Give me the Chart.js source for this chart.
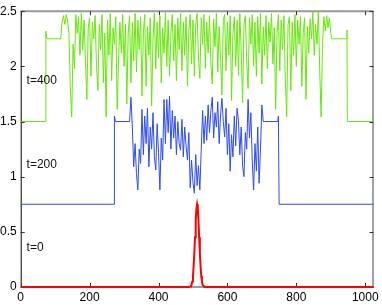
<!DOCTYPE html>
<html>
<head>
<meta charset="utf-8">
<script src="https://cdn.jsdelivr.net/npm/chart.js@4.4.1/dist/chart.umd.min.js"></script>
<style>
  html, body { margin: 0; padding: 0; background: #fff; }
  #grafico { display: block; }
</style>
</head>
<body>
<canvas id="grafico" width="382" height="305"></canvas>
<script>
// axis ticks
const xTicks = [0, 200, 400, 600, 800, 1000]
const yTicks = [0, 0.5, 1, 1.5, 2, 2.5]

// curve labels, placed in data units
const curveLabels = ['t=0', 't=200', 't=400']
const curveLabelY = [0.36, 1.11, 1.87]
const curveLabelX = 17

// t=0: red bump
const redX = [0, 488, 492, 494, 496, 498, 500, 502, 504, 506, 508, 510, 512, 514, 516, 518, 520, 522, 524, 526, 528, 530, 534, 1024]
const redY = [0, 0, 0.005, 0.01, 0.02, 0.05, 0.10, 0.19, 0.31, 0.45, 0.60, 0.71, 0.75, 0.71, 0.60, 0.45, 0.31, 0.19, 0.10, 0.05, 0.02, 0.01, 0, 0]

// t=200: blue, flat parts + noisy middle (sampled every 4 from 320)
const blueHeadX = [0, 271, 272, 275, 316]
const blueHeadY = [0.75, 0.75, 1.55, 1.5, 1.5]
const blueTailX = [707, 746, 748, 750, 1024]
const blueTailY = [1.5, 1.5, 1.55, 0.75, 0.75]
const blueNoiseStart = 320
const blueNoise = [
  1.72, 1.45, 1.09, 1.30, 1.03, 0.88, 1.25, 1.12, 1.61, 1.20,
  1.55, 1.30, 1.62, 1.09, 1.45, 1.25, 1.58, 1.18, 1.06, 1.48,
  1.22, 0.88, 1.35, 1.15, 1.70, 1.30, 1.70, 1.40, 1.73, 1.25,
  1.60, 1.35, 1.55, 1.20, 1.50, 1.30, 1.24, 1.52, 1.18, 1.45,
  1.28, 1.15, 1.40, 0.90, 1.15, 0.95, 0.85, 1.20, 0.92, 1.10,
  0.88, 1.25, 1.60, 1.30, 1.55, 1.33, 1.65, 1.40, 1.60, 1.72,
  1.35, 1.58, 1.45, 1.68, 1.30, 1.55, 1.71, 1.50, 1.36, 1.62,
  1.20, 1.48, 1.05, 1.38, 1.18, 1.55, 1.28, 1.62, 1.51, 1.20,
  1.45, 1.10, 1.00, 1.40, 1.25, 1.70, 1.35, 1.58, 1.15, 0.88,
  1.30, 1.05, 1.45, 0.94, 1.25, 1.65, 1.50
]

// t=400: green, flat parts + noisy middle (sampled every 4 from 120)
const greenHeadX = [0, 72, 73, 76, 116]
const greenHeadY = [1.5, 1.5, 2.32, 2.25, 2.25]
const greenTailX = [903, 946, 947, 948, 1024]
const greenTailY = [2.25, 2.25, 2.33, 1.5, 1.5]
const greenNoiseStart = 120
const greenNoise = [
  2.40, 2.46, 2.38, 2.47, 2.42, 2.30, 1.81, 1.54, 2.20, 1.98,
  2.47, 2.30, 2.45, 2.10, 2.48, 2.15, 2.42, 2.05, 1.70, 2.35,
  2.44, 1.91, 2.40, 2.25, 2.46, 2.00, 1.78, 2.38, 2.15, 2.47,
  1.85, 2.30, 1.54, 2.42, 2.10, 2.48, 1.87, 2.35, 2.20, 2.45,
  1.61, 2.05, 2.40, 2.12, 2.47, 2.00, 2.38, 1.66, 2.30, 2.46,
  1.85, 2.40, 2.05, 2.48, 1.95, 2.42, 2.15, 2.45, 1.73, 2.30,
  2.47, 1.82, 2.36, 2.10, 2.44, 1.64, 2.25, 2.48, 1.98, 2.40,
  2.08, 2.46, 1.85, 2.35, 2.12, 2.49, 2.00, 2.42, 1.91, 2.30,
  2.47, 2.05, 2.38, 1.87, 2.44, 2.15, 2.48, 1.96, 2.40, 2.10,
  2.45, 1.82, 2.33, 2.47, 2.02, 2.42, 1.91, 2.38, 2.48, 2.08,
  1.89, 2.44, 2.20, 2.47, 1.98, 2.40, 2.12, 2.46, 2.02, 1.84,
  2.43, 2.18, 2.48, 1.95, 2.36, 2.08, 1.74, 2.42, 2.47, 1.96,
  2.40, 2.10, 2.46, 1.69, 2.30, 2.45, 2.00, 2.42, 1.92, 2.48,
  2.15, 1.67, 2.38, 2.46, 2.05, 1.80, 2.44, 2.20, 2.47, 2.00,
  2.40, 1.91, 2.45, 2.12, 2.48, 1.84, 2.36, 2.10, 2.46, 1.98,
  2.40, 2.22, 2.48, 2.02, 2.35, 1.61, 2.30, 2.47, 1.96, 2.42,
  2.15, 2.46, 1.90, 1.54, 2.38, 2.45, 1.78, 2.40, 2.10, 2.47,
  2.00, 2.42, 2.20, 2.45, 1.82, 2.30, 2.44, 1.70, 2.36, 2.12,
  2.43, 2.25, 2.50, 2.10, 2.38, 2.20, 2.50, 1.95, 1.54, 2.20,
  2.45, 2.32, 2.46, 2.35, 2.44, 2.30
]

const step = 4

function puntos(xs, ys) {
  return xs.map((x, i) => ({ x: x, y: ys[i] }))
}

function conRuido(headX, headY, start, ruido, tailX, tailY) {
  const medio = ruido.map((v, i) => ({ x: start + i * step, y: v }))
  return puntos(headX, headY).concat(medio, puntos(tailX, tailY))
}

const marco = {
  id: 'marco',
  beforeDatasetsDraw(chart) {
    const { ctx, chartArea: a, scales } = chart
    ctx.save()
    // box
    ctx.lineWidth = 1
    ctx.strokeStyle = '#999'
    ctx.lineWidth = 2
    ctx.beginPath()
    ctx.moveTo(a.left, a.top); ctx.lineTo(a.right, a.top)
    ctx.moveTo(a.left, a.bottom); ctx.lineTo(a.right, a.bottom)
    ctx.stroke()
    ctx.lineWidth = 1
    ctx.strokeStyle = '#444'
    ctx.beginPath()
    ctx.moveTo(a.right - 0.5, a.top); ctx.lineTo(a.right - 0.5, a.bottom)
    ctx.stroke()
    ctx.strokeStyle = '#000'
    ctx.beginPath()
    ctx.moveTo(a.left + 0.5, a.top); ctx.lineTo(a.left + 0.5, a.bottom)
    ctx.stroke()
    // inward ticks
    ctx.strokeStyle = '#333'
    ctx.beginPath()
    xTicks.forEach(v => {
      const px = Math.round(scales.x.getPixelForValue(v)) + 0.5
      ctx.moveTo(px, a.bottom); ctx.lineTo(px, a.bottom - 4)
      ctx.moveTo(px, a.top); ctx.lineTo(px, a.top + 4)
    })
    yTicks.forEach(v => {
      const py = Math.round(scales.y.getPixelForValue(v)) + 0.5
      ctx.moveTo(a.left, py); ctx.lineTo(a.left + 4, py)
      ctx.moveTo(a.right, py); ctx.lineTo(a.right - 4, py)
    })
    ctx.stroke()
    ctx.restore()
  },
  afterDraw(chart) {
    const { ctx, scales } = chart
    ctx.save()
    ctx.fillStyle = '#111'
    ctx.font = '12px "Liberation Sans", Arial, sans-serif'
    ctx.textAlign = 'left'
    ctx.textBaseline = 'middle'
    curveLabels.forEach((t, i) => {
      ctx.fillText(t, scales.x.getPixelForValue(curveLabelX), scales.y.getPixelForValue(curveLabelY[i]))
    })
    ctx.restore()
  }
}

const datasets = [
  {
    label: 't=400',
    data: conRuido(greenHeadX, greenHeadY, greenNoiseStart, greenNoise, greenTailX, greenTailY),
    borderColor: 'rgb(102, 232, 10)',
    borderWidth: 1
  },
  {
    label: 't=200',
    data: conRuido(blueHeadX, blueHeadY, blueNoiseStart, blueNoise, blueTailX, blueTailY),
    borderColor: 'rgb(45, 75, 240)',
    borderWidth: 1
  },
  {
    label: 't=0',
    data: puntos(redX, redY),
    borderColor: 'rgb(255, 0, 0)',
    borderWidth: 2
  }
]

const tickFont = { family: '"Liberation Sans", Arial, sans-serif', size: 12 }

const config = {
  type: 'line',
  data: { datasets },
  options: {
    responsive: false,
    animation: false,
    devicePixelRatio: 1,
    layout: { padding: { top: 10, right: 8.5, left: 0, bottom: 0 } },
    elements: { point: { radius: 0 }, line: { tension: 0 } },
    datasets: { line: { clip: 3 } },
    plugins: { legend: { display: false }, tooltip: { enabled: false } },
    scales: {
      x: {
        type: 'linear',
        min: 0,
        max: 1024,
        afterBuildTicks: s => { s.ticks = xTicks.map(v => ({ value: v })) },
        afterFit: s => { s.height = 18; s.paddingLeft = 0; s.paddingRight = 0 },
        grid: { display: false, drawTicks: false },
        border: { display: false },
        ticks: { padding: 3, color: '#000', font: tickFont, maxRotation: 0, callback: v => String(v) }
      },
      y: {
        min: 0,
        max: 2.5,
        afterBuildTicks: s => { s.ticks = yTicks.map(v => ({ value: v })) },
        afterFit: s => { s.width = 20.7 },
        grid: { display: false, drawTicks: false },
        border: { display: false },
        ticks: { padding: 4, color: '#000', font: tickFont, callback: v => String(v) }
      }
    }
  },
  plugins: [marco]
}

const grafico = document.querySelector('#grafico')
new Chart(grafico, config)
</script>
</body>
</html>
